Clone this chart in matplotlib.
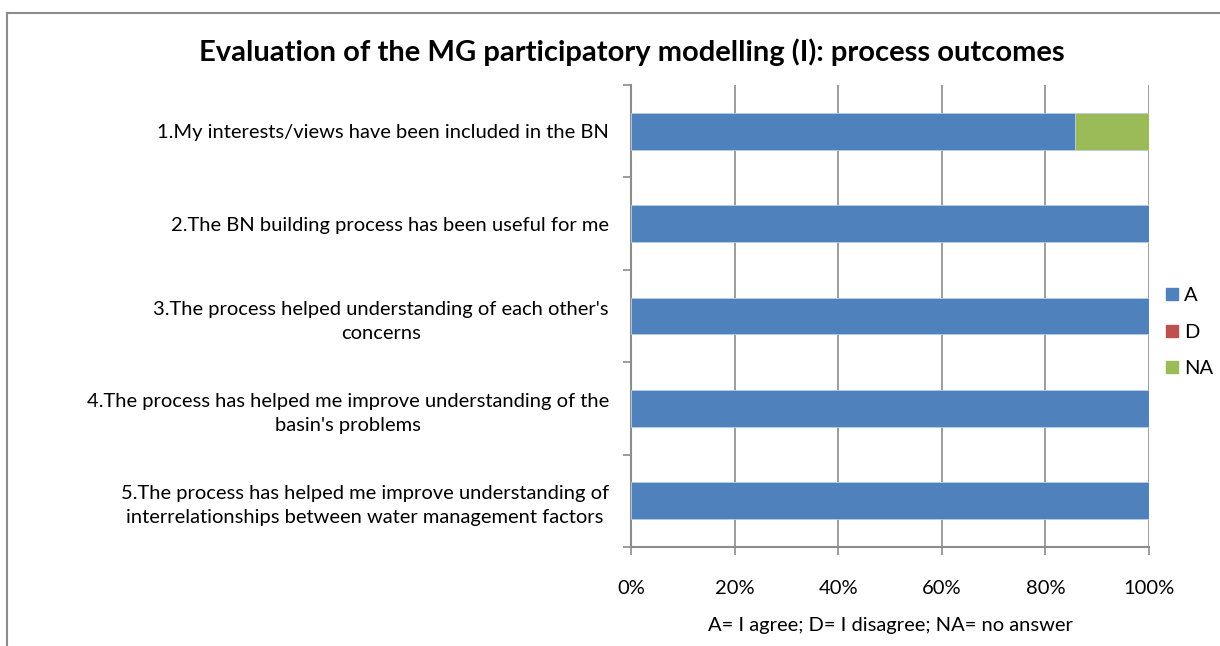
import numpy as np
import matplotlib.pyplot as plt
from matplotlib.lines import Line2D
from matplotlib.ticker import FixedLocator, PercentFormatter

# Survey statements (top to bottom) and share of answers per category
statements = [
    "1.My interests/views have been included in the BN",
    "2.The BN building process has been useful for me",
    "3.The process helped understanding of each other's\nconcerns",
    "4.The process has helped me improve understanding of the\nbasin's problems",
    "5.The process has helped me improve understanding of\ninterrelationships between water management factors",
]
agree = [85.7, 100, 100, 100, 100]
disagree = [0, 0, 0, 0, 0]
no_answer = [14.3, 0, 0, 0, 0]

series = [("A", agree, "#4F81BD"), ("D", disagree, "#C0504D"), ("NA", no_answer, "#9BBB59")]

plt.rcParams['font.family'] = ['Lato', 'DejaVu Sans']
fs = 14.5

fig = plt.figure(figsize=(12.2, 6.46), dpi=100)
ax = fig.add_axes([631 / 1220, 99 / 646, 518 / 1220, 462 / 646])

y = np.arange(len(statements))
left = np.zeros(len(statements))
for name, vals, col in series:
    ax.barh(y, vals, left=left, height=0.4, color=col, edgecolor='#B9CDE5',
            linewidth=0.6, label=name, zorder=3)
    left += np.array(vals)

ax.set_xlim(0, 100)
ax.set_ylim(len(statements) - 0.5, -0.5)
ax.xaxis.set_major_locator(FixedLocator([0, 20, 40, 60, 80, 100]))
ax.xaxis.set_major_formatter(PercentFormatter(decimals=0))
ax.grid(axis='x', color='#8C8C8C', linewidth=1.2, zorder=0)

ax.set_yticks(y)
ax.set_yticklabels(statements, multialignment='center', fontsize=fs, linespacing=1.5)
ax.set_yticks(np.arange(-0.5, len(statements)), minor=True)
ax.tick_params(axis='y', which='major', length=0, pad=16)
ax.tick_params(axis='y', which='minor', length=6, color='#8C8C8C', width=1.2)
ax.tick_params(axis='x', length=6, color='#8C8C8C', width=1.2, pad=18, labelsize=fs)

for s in ['top', 'right']:
    ax.spines[s].set_visible(False)
for s in ['left', 'bottom']:
    ax.spines[s].set_color('#8C8C8C')
    ax.spines[s].set_linewidth(1.5)

ax.set_xlabel("A= I agree; D= I disagree; NA= no answer", fontsize=fs, labelpad=14)

fig.text(632 / 1220, 1 - 52 / 646, "Evaluation of the MG participatory modelling (I): process outcomes",
         ha='center', va='center', fontsize=21, fontweight='bold')

handles = [Line2D([], [], marker='s', linestyle='none', markersize=9, color=c) for _, _, c in series]
fig.legend(handles, [n for n, _, _ in series], loc='center left', bbox_to_anchor=(1144 / 1220, 1 - 332 / 646),
           frameon=False, fontsize=fs, handletextpad=0.1, labelspacing=0.95, handlelength=1.0)

# chart frame lines (top and left only, as in the source image)
fig.add_artist(Line2D([7 / 1220, 1], [1 - 13 / 646, 1 - 13 / 646], color='#8C8C8C', linewidth=1.5,
                      transform=fig.transFigure))
fig.add_artist(Line2D([7 / 1220, 7 / 1220], [0, 1 - 13 / 646], color='#8C8C8C', linewidth=1.5,
                      transform=fig.transFigure))

fig.savefig('out.png', dpi=100, facecolor='white')
